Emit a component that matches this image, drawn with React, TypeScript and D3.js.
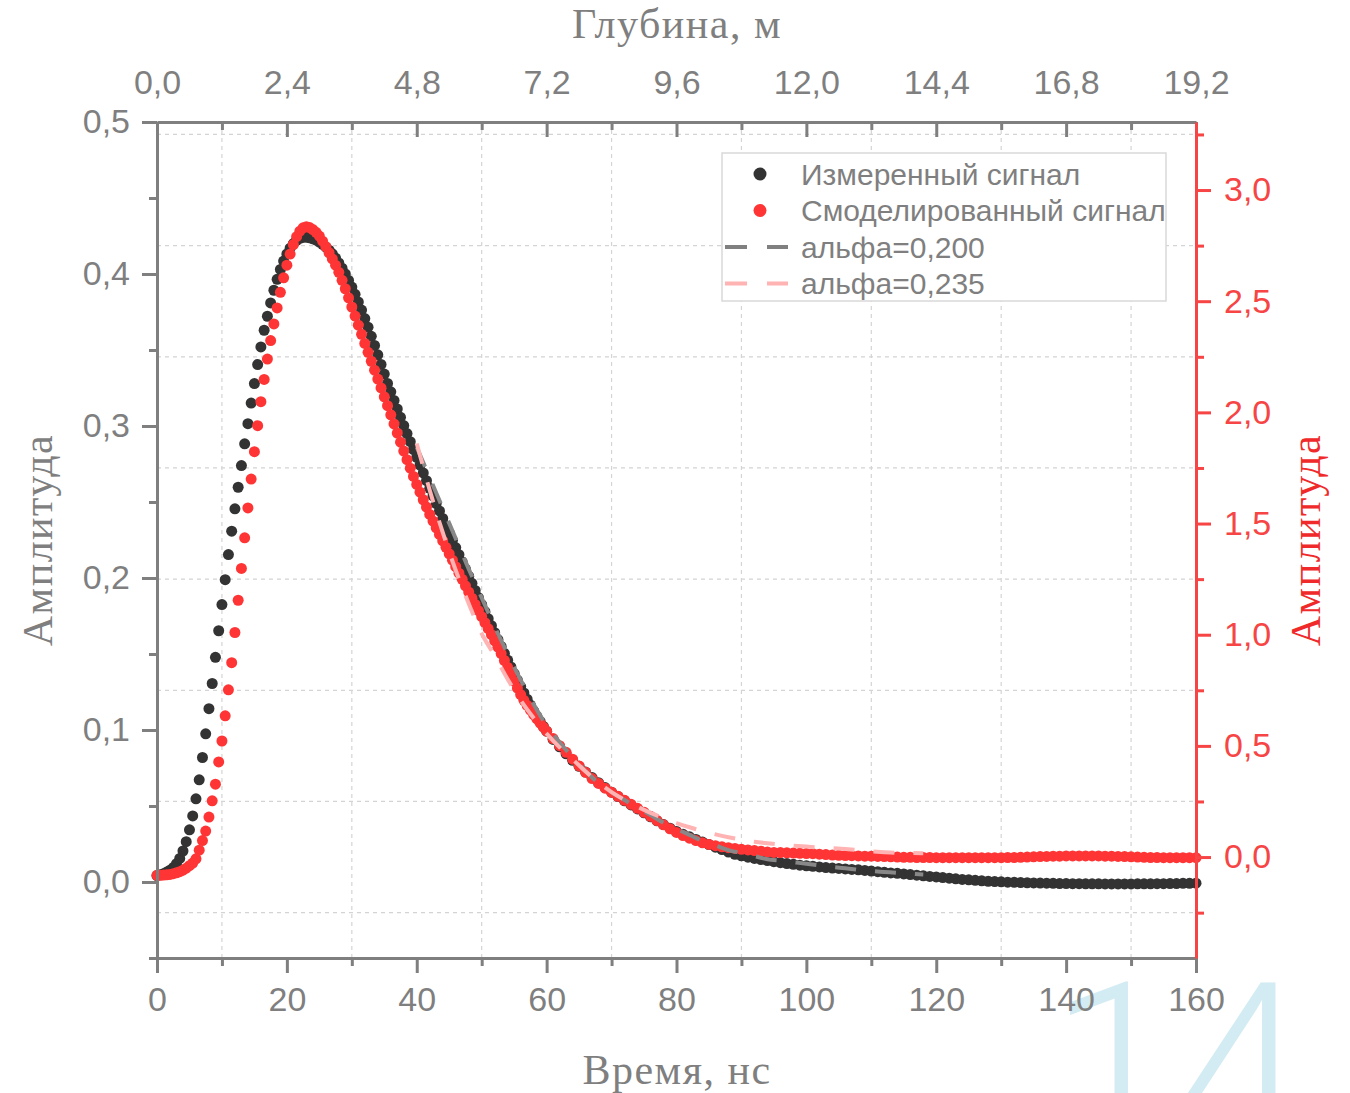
import React, { useEffect, useRef } from "react";
import * as d3 from "d3";

const width = 1350;
const height = 1093;
const plotLeft = 157;
const plotRight = 1196;
const plotTop = 122;
const plotBottom = 958;

// sampling instants, ns
const timeFine = d3.range(0, 60.01, 0.5);
const timeCoarse = d3.range(61, 160.01, 1);
const timeFit = d3.range(40, 118.01, 2);

// measured signal (left axis), 0..60 ns by 0.5
const measuredFine = [
  0.0042, 0.0048, 0.0055, 0.0065, 0.0078, 0.0095, 0.012, 0.0155,
  0.0204, 0.0265, 0.0343, 0.0435, 0.0547, 0.0672, 0.0819, 0.0975,
  0.114, 0.1306, 0.1478, 0.1653, 0.1825, 0.1989, 0.2154, 0.2308,
  0.2455, 0.2597, 0.274, 0.2883, 0.3015, 0.3151, 0.3279, 0.3404,
  0.352, 0.363, 0.3722, 0.381, 0.3893, 0.3965, 0.403, 0.4085,
  0.4132, 0.417, 0.42, 0.4222, 0.4235, 0.4241, 0.4242, 0.4238,
  0.4232, 0.4223, 0.421, 0.4195, 0.4177, 0.4157, 0.4133, 0.4105,
  0.4073, 0.4038, 0.4, 0.3958, 0.3914, 0.3866, 0.3816, 0.3763,
  0.3707, 0.365, 0.359, 0.353, 0.3468, 0.3405, 0.3342, 0.328,
  0.3225, 0.3168, 0.3112, 0.3057, 0.3003, 0.295, 0.2897, 0.2845,
  0.2793, 0.2742, 0.2691, 0.264, 0.259, 0.254, 0.249, 0.2441,
  0.2392, 0.2344, 0.2296, 0.2248, 0.22, 0.2153, 0.2106, 0.2059,
  0.2012, 0.1965, 0.1918, 0.1871, 0.1824, 0.1778, 0.1732, 0.1686,
  0.164, 0.1595, 0.155, 0.1504, 0.1459, 0.1415, 0.1371, 0.1328,
  0.1286, 0.1244, 0.1203, 0.1164, 0.1126, 0.109, 0.1056, 0.1023,
  0.0992,
];
// measured signal, 61..160 ns by 1
const measuredCoarse = [
  0.0938, 0.0889, 0.0843, 0.0801, 0.0761, 0.0723, 0.0687, 0.0653, 0.0621, 0.0591,
  0.0562, 0.0534, 0.0507, 0.0481, 0.0455, 0.0429, 0.0403, 0.0378, 0.0354, 0.0333,
  0.0314, 0.0297, 0.028, 0.0263, 0.0246, 0.0229, 0.0213, 0.0197, 0.0182, 0.0172,
  0.0163, 0.0155, 0.0148, 0.0141, 0.0134, 0.0127, 0.0121, 0.0116, 0.0111, 0.0107,
  0.0103, 0.0099, 0.0095, 0.0092, 0.0089, 0.0086, 0.0083, 0.008, 0.0076, 0.0072,
  0.0068, 0.0064, 0.006, 0.0057, 0.0053, 0.0049, 0.0045, 0.0041, 0.0037, 0.0033,
  0.0029, 0.0025, 0.0021, 0.0017, 0.0014, 0.0011, 0.0008, 0.0005, 0.0003, 0.0001,
  -0.0001, -0.0002, -0.0004, -0.0005, -0.0006, -0.0007, -0.0008, -0.0009, -0.001, -0.001,
  -0.0011, -0.0011, -0.0012, -0.0012, -0.0012, -0.0013, -0.0013, -0.0013, -0.0013, -0.0013,
  -0.0012, -0.0012, -0.0012, -0.0011, -0.0011, -0.001, -0.001, -0.0009, -0.0009, -0.0008,
];

// modelled signal (right axis), 0..60 ns by 0.5
const modelFine = [
  -0.082, -0.082, -0.081, -0.08, -0.078, -0.075, -0.071, -0.066,
  -0.059, -0.05, -0.039, -0.027, -0.008, 0.031, 0.074, 0.117,
  0.18, 0.253, 0.328, 0.428, 0.522, 0.635, 0.752, 0.874,
  1.01, 1.155, 1.298, 1.436, 1.57, 1.7, 1.823, 1.94,
  2.048, 2.148, 2.24, 2.323, 2.398, 2.47, 2.54, 2.605,
  2.662, 2.712, 2.755, 2.79, 2.815, 2.83, 2.835, 2.831,
  2.822, 2.81, 2.793, 2.77, 2.745, 2.718, 2.69, 2.662,
  2.63, 2.594, 2.556, 2.515, 2.474, 2.433, 2.392, 2.351,
  2.31, 2.27, 2.23, 2.19, 2.15, 2.11, 2.07, 2.03,
  1.989, 1.948, 1.907, 1.866, 1.826, 1.787, 1.749, 1.712,
  1.676, 1.641, 1.607, 1.574, 1.541, 1.511, 1.481, 1.451,
  1.422, 1.393, 1.364, 1.335, 1.306, 1.277, 1.249, 1.22,
  1.192, 1.164, 1.136, 1.108, 1.081, 1.054, 1.027, 1.0,
  0.972, 0.944, 0.915, 0.884, 0.853, 0.822, 0.791, 0.76,
  0.731, 0.705, 0.682, 0.661, 0.641, 0.621, 0.602, 0.584,
  0.566,
];
// modelled signal, 61..160 ns by 1
const modelCoarse = [
  0.533, 0.501, 0.471, 0.44, 0.41, 0.381, 0.353, 0.331, 0.31, 0.291,
  0.273, 0.255, 0.237, 0.219, 0.201, 0.183, 0.164, 0.145, 0.127, 0.111,
  0.097, 0.085, 0.074, 0.064, 0.057, 0.051, 0.046, 0.042, 0.039, 0.035,
  0.032, 0.029, 0.026, 0.023, 0.021, 0.02, 0.019, 0.018, 0.017, 0.016,
  0.015, 0.013, 0.011, 0.009, 0.008, 0.007, 0.006, 0.005, 0.004, 0.004,
  0.003, 0.002, 0.001, 0.0, -0.001, -0.001, -0.002, -0.002, -0.002, -0.003,
  -0.003, -0.003, -0.003, -0.003, -0.003, -0.003, -0.003, -0.003, -0.003, -0.003,
  -0.002, -0.002, -0.001, 0.0, 0.001, 0.002, 0.003, 0.004, 0.004, 0.005,
  0.005, 0.005, 0.005, 0.005, 0.005, 0.004, 0.004, 0.003, 0.002, 0.001,
  0.0, -0.001, -0.002, -0.002, -0.003, -0.003, -0.003, -0.003, -0.003, -0.003,
];

// fitted curves, 40..118 ns by 2
const alpha200 = [
  0.286, 0.266, 0.246, 0.226, 0.206, 0.187, 0.168, 0.15, 0.133, 0.117,
  0.103, 0.092, 0.082, 0.073, 0.065, 0.059, 0.054, 0.049, 0.044, 0.039,
  0.035, 0.031, 0.027, 0.024, 0.021, 0.019, 0.017, 0.015, 0.014, 0.013,
  0.012, 0.011, 0.0099, 0.009, 0.008, 0.0072, 0.0066, 0.006, 0.0055, 0.005,
];
const alpha235 = [
  1.86, 1.65, 1.46, 1.29, 1.14, 1.005, 0.905, 0.8, 0.705, 0.625,
  0.555, 0.493, 0.44, 0.385, 0.335, 0.292, 0.257, 0.226, 0.199, 0.175,
  0.153, 0.134, 0.117, 0.102, 0.089, 0.078, 0.069, 0.062, 0.056, 0.051,
  0.047, 0.043, 0.04, 0.036, 0.031, 0.026, 0.022, 0.019, 0.018, 0.017,
];

const timeTicks = [0, 20, 40, 60, 80, 100, 120, 140, 160];
const timeMinor = [10, 30, 50, 70, 90, 110, 130, 150];
const depthTicks = [0, 2.4, 4.8, 7.2, 9.6, 12.0, 14.4, 16.8, 19.2];
const depthMinor = [1.2, 3.6, 6.0, 8.4, 10.8, 13.2, 15.6, 18.0];
const leftTicks = [0, 0.1, 0.2, 0.3, 0.4, 0.5];
const leftMinor = [-0.05, 0.05, 0.15, 0.25, 0.35, 0.45];
const rightTicks = [0, 0.5, 1.0, 1.5, 2.0, 2.5, 3.0];
const rightMinor = [-0.25, 0.25, 0.75, 1.25, 1.75, 2.25, 2.75, 3.25];

const legendItems = [
  { label: "Измеренный сигнал", kind: "dot", color: "#333333" },
  { label: "Смоделированный сигнал", kind: "dot", color: "#ff3535" },
  { label: "альфа=0,200", kind: "dash", color: "#808080" },
  { label: "альфа=0,235", kind: "dash", color: "#ffb3b3" },
];

const grey = "#7f7f7f";
const red = "#f74444";
const sans = "'Liberation Sans', Arial, sans-serif";
const serif = "'Liberation Serif', 'Times New Roman', serif";
const comma = (f) => (d) => d3.format(f)(d).replace(".", ",");

const App = () => {
  const svgRef = useRef(null);

  useEffect(() => {
    const svg = d3.select(svgRef.current);
    svg.selectAll("*").remove();

    const x = d3.scaleLinear().domain([0, 160]).range([plotLeft, plotRight]);
    const xTop = d3.scaleLinear().domain([0, 19.2]).range([plotLeft, plotRight]);
    const yLeft = d3.scaleLinear().domain([-0.05, 0.5]).range([plotBottom, plotTop]);
    const yRight = d3.scaleLinear().domain([-0.454, 3.306]).range([plotBottom, plotTop]);

    // page watermark, cut by the bottom edge
    svg
      .append("text")
      .attr("x", 1050)
      .attr("y", 1146)
      .attr("font-family", "Roboto, 'Open Sans', sans-serif")
      .attr("font-weight", 300)
      .attr("font-size", 230)
      .attr("fill", "#d3ebf2")
      .text("14");

    // grid
    const grid = svg.append("g").attr("stroke", "#d4d4d4").attr("stroke-width", 1.2).attr("stroke-dasharray", "4,4");
    grid
      .selectAll("line.v")
      .data(timeMinor)
      .join("line")
      .attr("x1", (d) => x(d))
      .attr("x2", (d) => x(d))
      .attr("y1", plotTop)
      .attr("y2", plotBottom);
    grid
      .selectAll("line.h")
      .data(rightMinor)
      .join("line")
      .attr("x1", plotLeft)
      .attr("x2", plotRight)
      .attr("y1", (d) => yRight(d))
      .attr("y2", (d) => yRight(d));

    const measured = [
      ...timeFine.map((t, i) => ({ t, v: measuredFine[i] })),
      ...timeCoarse.map((t, i) => ({ t, v: measuredCoarse[i] })),
    ];
    const modelled = [
      ...timeFine.map((t, i) => ({ t, v: modelFine[i] })),
      ...timeCoarse.map((t, i) => ({ t, v: modelCoarse[i] })),
    ];

    svg
      .append("g")
      .selectAll("circle")
      .data(measured)
      .join("circle")
      .attr("cx", (d) => x(d.t))
      .attr("cy", (d) => yLeft(d.v))
      .attr("r", 5.5)
      .attr("fill", "#333333");

    svg
      .append("g")
      .selectAll("circle")
      .data(modelled)
      .join("circle")
      .attr("cx", (d) => x(d.t))
      .attr("cy", (d) => yRight(d.v))
      .attr("r", 5.5)
      .attr("fill", "#ff3535");

    const fitGrey = d3
      .line()
      .x((d, i) => x(timeFit[i]))
      .y((d) => yLeft(d))
      .curve(d3.curveMonotoneX);
    const fitPink = d3
      .line()
      .x((d, i) => x(timeFit[i]))
      .y((d) => yRight(d))
      .curve(d3.curveMonotoneX);

    svg
      .append("path")
      .datum(alpha200)
      .attr("fill", "none")
      .attr("stroke", "#888888")
      .attr("stroke-width", 4)
      .attr("stroke-dasharray", "21,19")
      .attr("d", fitGrey);
    svg
      .append("path")
      .datum(alpha235)
      .attr("fill", "none")
      .attr("stroke", "#ffb3b3")
      .attr("stroke-width", 4)
      .attr("stroke-dasharray", "21,19")
      .attr("d", fitPink);

    const styleAxis = (g, color, size) => {
      g.attr("font-family", sans).attr("font-size", size);
      g.select(".domain").attr("stroke", color).attr("stroke-width", 3);
      g.selectAll(".tick line").attr("stroke", color).attr("stroke-width", 3);
      g.selectAll(".tick text").attr("fill", color);
    };
    const minor = (g, color) => {
      g.select(".domain").remove();
      g.selectAll(".tick line").attr("stroke", color).attr("stroke-width", 3);
      g.selectAll(".tick text").remove();
    };

    // bottom axis
    svg
      .append("g")
      .attr("transform", `translate(0,${plotBottom})`)
      .call(d3.axisBottom(x).tickValues(timeMinor).tickSize(8))
      .call((g) => minor(g, grey));
    svg
      .append("g")
      .attr("transform", `translate(0,${plotBottom})`)
      .call(d3.axisBottom(x).tickValues(timeTicks).tickSize(15).tickSizeOuter(0).tickPadding(14).tickFormat(d3.format("d")))
      .call((g) => styleAxis(g, grey, 34));

    // top axis, ticks inward
    svg
      .append("g")
      .attr("transform", `translate(0,${plotTop})`)
      .call(d3.axisTop(xTop).tickValues(depthMinor).tickSize(-8))
      .call((g) => minor(g, grey));
    svg
      .append("g")
      .attr("transform", `translate(0,${plotTop})`)
      .call(d3.axisTop(xTop).tickValues(depthTicks).tickSize(-15).tickSizeOuter(0).tickPadding(28).tickFormat(comma(".1f")))
      .call((g) => styleAxis(g, grey, 34));

    // left axis
    svg
      .append("g")
      .attr("transform", `translate(${plotLeft},0)`)
      .call(d3.axisLeft(yLeft).tickValues(leftMinor).tickSize(8))
      .call((g) => minor(g, grey));
    svg
      .append("g")
      .attr("transform", `translate(${plotLeft},0)`)
      .call(d3.axisLeft(yLeft).tickValues(leftTicks).tickSize(15).tickSizeOuter(0).tickPadding(12).tickFormat(comma(".1f")))
      .call((g) => styleAxis(g, grey, 34));

    // right axis
    svg
      .append("g")
      .attr("transform", `translate(${plotRight},0)`)
      .call(d3.axisRight(yRight).tickValues(rightMinor).tickSize(8))
      .call((g) => minor(g, red));
    svg
      .append("g")
      .attr("transform", `translate(${plotRight},0)`)
      .call(d3.axisRight(yRight).tickValues(rightTicks).tickSize(15).tickSizeOuter(0).tickPadding(13).tickFormat(comma(".1f")))
      .call((g) => styleAxis(g, red, 34));

    // axis titles
    const title = (sel) =>
      sel.attr("font-family", serif).attr("font-size", 42).attr("letter-spacing", 1.5).attr("text-anchor", "middle");
    svg.append("text").call(title).attr("x", 677).attr("y", 38).attr("fill", grey).text("Глубина, м");
    svg.append("text").call(title).attr("x", 677).attr("y", 1084).attr("fill", grey).text("Время, нс");
    svg
      .append("text")
      .call(title)
      .attr("transform", "translate(52,540) rotate(-90)")
      .attr("fill", grey)
      .text("Амплитуда");
    svg
      .append("text")
      .call(title)
      .attr("transform", "translate(1320,540) rotate(-90)")
      .attr("fill", "#f02a2a")
      .text("Амплитуда");

    // legend
    const legend = svg.append("g").attr("transform", "translate(722,153)");
    legend
      .append("rect")
      .attr("width", 444)
      .attr("height", 148)
      .attr("fill", "#ffffff")
      .attr("stroke", "#d9d9d9")
      .attr("stroke-width", 1.5);
    const rows = legend
      .selectAll("g.item")
      .data(legendItems)
      .join("g")
      .attr("transform", (d, i) => `translate(0,${21 + i * 36.5})`);
    rows
      .filter((d) => d.kind === "dot")
      .append("circle")
      .attr("cx", 38)
      .attr("r", 6.5)
      .attr("fill", (d) => d.color);
    rows
      .filter((d) => d.kind === "dash")
      .append("line")
      .attr("x1", 3)
      .attr("x2", 66)
      .attr("stroke", (d) => d.color)
      .attr("stroke-width", 4)
      .attr("stroke-dasharray", "22,20");
    rows
      .append("text")
      .attr("x", 79)
      .attr("dy", "0.36em")
      .attr("font-family", sans)
      .attr("font-size", 30)
      .attr("fill", grey)
      .text((d) => d.label);
  }, []);

  return (
    <div style={{ position: "absolute", left: 0, top: 0 }}>
      <svg ref={svgRef} width={width} height={height} style={{ display: "block", background: "#fff" }} />
    </div>
  );
};

export default App;
